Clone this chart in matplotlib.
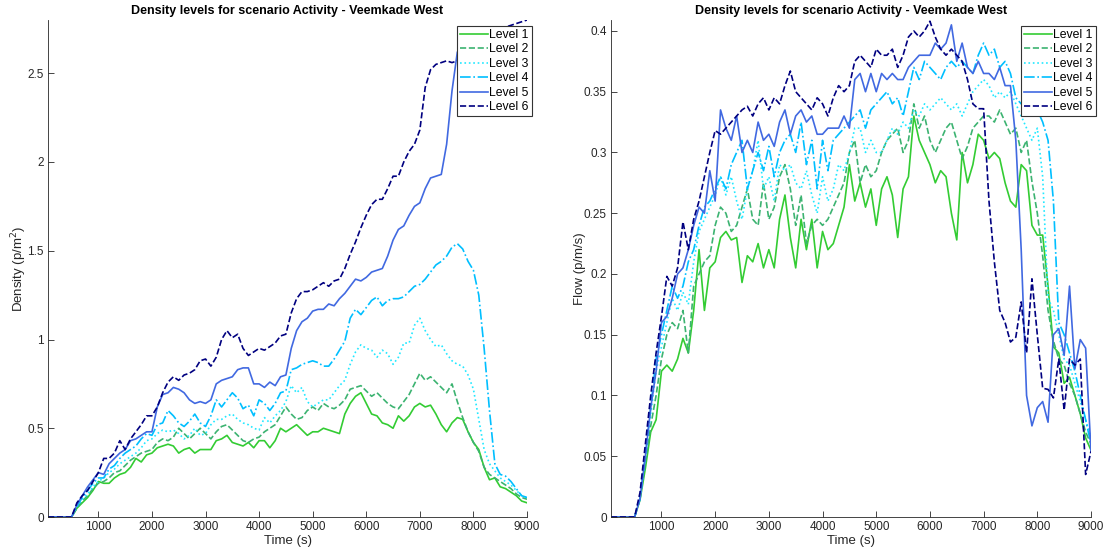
import numpy as np
import matplotlib
matplotlib.use("Agg")
import matplotlib.pyplot as plt
from matplotlib.ticker import FormatStrFormatter

plt.rcParams['font.family'] = ['Liberation Sans', 'DejaVu Sans']

# ---------------- data ----------------
time_s = [60] + list(range(100, 9001, 100))

labels = ["Level 1", "Level 2", "Level 3", "Level 4", "Level 5", "Level 6"]

density_l1 = [0, 0, 0, 0, 0, 0, 0.05, 0.08, 0.11, 0.15, 0.20, 0.19, 0.19, 0.22, 0.24, 0.25, 0.28, 0.33, 0.31, 0.35,
              0.36, 0.39, 0.40, 0.41, 0.40, 0.36, 0.38, 0.39, 0.36, 0.38, 0.38, 0.38, 0.43, 0.44, 0.46, 0.42, 0.41, 0.40,
              0.42, 0.39, 0.43, 0.43, 0.39, 0.43, 0.50, 0.48, 0.50, 0.52, 0.49, 0.46, 0.48, 0.48, 0.50, 0.49, 0.48, 0.47,
              0.58, 0.64, 0.68, 0.70, 0.64, 0.58, 0.57, 0.53, 0.52, 0.50, 0.57, 0.54, 0.57, 0.62, 0.64, 0.62, 0.63, 0.58,
              0.52, 0.48, 0.53, 0.56, 0.55, 0.48, 0.42, 0.38, 0.28, 0.21, 0.22, 0.17, 0.16, 0.14, 0.12, 0.09, 0.08]
density_l2 = [0, 0, 0, 0, 0, 0, 0.05, 0.09, 0.12, 0.16, 0.19, 0.20, 0.22, 0.25, 0.26, 0.29, 0.32, 0.34, 0.36, 0.37,
              0.38, 0.42, 0.44, 0.43, 0.45, 0.50, 0.47, 0.44, 0.47, 0.50, 0.47, 0.44, 0.48, 0.51, 0.52, 0.49, 0.46, 0.43,
              0.42, 0.44, 0.45, 0.48, 0.50, 0.52, 0.57, 0.62, 0.58, 0.55, 0.56, 0.60, 0.62, 0.60, 0.64, 0.62, 0.61, 0.63,
              0.66, 0.72, 0.73, 0.74, 0.71, 0.68, 0.70, 0.67, 0.64, 0.62, 0.61, 0.65, 0.69, 0.75, 0.81, 0.77, 0.79, 0.76,
              0.73, 0.70, 0.75, 0.65, 0.56, 0.48, 0.42, 0.37, 0.28, 0.24, 0.22, 0.20, 0.18, 0.16, 0.13, 0.11, 0.10]
density_l3 = [0, 0, 0, 0, 0, 0, 0.06, 0.10, 0.13, 0.17, 0.20, 0.22, 0.25, 0.27, 0.30, 0.32, 0.34, 0.36, 0.39, 0.43,
              0.44, 0.47, 0.49, 0.48, 0.49, 0.47, 0.44, 0.46, 0.50, 0.46, 0.47, 0.52, 0.55, 0.55, 0.57, 0.58, 0.55, 0.53,
              0.52, 0.50, 0.49, 0.56, 0.53, 0.57, 0.60, 0.65, 0.74, 0.70, 0.73, 0.65, 0.62, 0.64, 0.66, 0.66, 0.70, 0.74,
              0.77, 0.86, 0.93, 0.97, 0.95, 0.94, 0.90, 0.94, 0.92, 0.86, 0.90, 0.98, 0.98, 1.08, 1.12, 1.05, 1.00, 0.96,
              0.97, 0.92, 0.88, 0.86, 0.85, 0.80, 0.72, 0.55, 0.38, 0.30, 0.26, 0.22, 0.20, 0.18, 0.15, 0.12, 0.11]
density_l4 = [0, 0, 0, 0, 0, 0, 0.06, 0.11, 0.15, 0.19, 0.22, 0.22, 0.27, 0.29, 0.33, 0.36, 0.38, 0.40, 0.44, 0.47,
              0.46, 0.52, 0.53, 0.60, 0.57, 0.53, 0.51, 0.54, 0.58, 0.53, 0.51, 0.57, 0.66, 0.62, 0.66, 0.70, 0.67, 0.61,
              0.63, 0.57, 0.66, 0.64, 0.60, 0.64, 0.70, 0.71, 0.83, 0.84, 0.86, 0.87, 0.88, 0.87, 0.85, 0.85, 0.89, 0.94,
              0.99, 1.12, 1.17, 1.14, 1.18, 1.22, 1.24, 1.19, 1.22, 1.23, 1.23, 1.24, 1.27, 1.30, 1.31, 1.34, 1.38, 1.42,
              1.44, 1.47, 1.52, 1.54, 1.51, 1.44, 1.39, 1.25, 0.95, 0.60, 0.30, 0.24, 0.23, 0.20, 0.16, 0.12, 0.11]
density_l5 = [0, 0, 0, 0, 0, 0, 0.07, 0.12, 0.17, 0.21, 0.25, 0.24, 0.30, 0.33, 0.36, 0.38, 0.43, 0.44, 0.46, 0.48,
              0.48, 0.62, 0.69, 0.70, 0.73, 0.72, 0.70, 0.66, 0.64, 0.65, 0.64, 0.66, 0.75, 0.77, 0.78, 0.79, 0.83, 0.84,
              0.84, 0.75, 0.75, 0.73, 0.76, 0.74, 0.79, 0.80, 0.95, 1.05, 1.10, 1.12, 1.16, 1.17, 1.17, 1.20, 1.19, 1.23,
              1.26, 1.30, 1.34, 1.33, 1.35, 1.38, 1.39, 1.40, 1.47, 1.56, 1.62, 1.64, 1.70, 1.75, 1.77, 1.85, 1.91, 1.92,
              1.93, 2.10, 2.40, 2.62, 2.62, 2.61, 2.60, 2.60, 2.59, 2.59, 2.58, 2.58, 2.57, 2.57, 2.56, 2.56, 2.56]
density_l6 = [0, 0, 0, 0, 0, 0, 0.08, 0.12, 0.15, 0.20, 0.25, 0.33, 0.33, 0.36, 0.43, 0.38, 0.44, 0.48, 0.52, 0.57,
              0.57, 0.62, 0.70, 0.76, 0.79, 0.77, 0.80, 0.81, 0.83, 0.88, 0.89, 0.85, 0.90, 1.00, 1.05, 1.01, 1.03, 0.95,
              0.91, 0.93, 0.95, 0.94, 0.96, 0.98, 1.02, 1.03, 1.15, 1.23, 1.27, 1.27, 1.28, 1.30, 1.32, 1.30, 1.33, 1.34,
              1.40, 1.48, 1.55, 1.63, 1.70, 1.76, 1.79, 1.79, 1.85, 1.92, 1.92, 2.00, 2.06, 2.10, 2.18, 2.42, 2.52, 2.55,
              2.56, 2.57, 2.56, 2.57, 2.60, 2.62, 2.64, 2.66, 2.68, 2.70, 2.72, 2.74, 2.76, 2.77, 2.78, 2.79, 2.80]

flow_l1 = [0, 0, 0, 0, 0, 0, 0.014, 0.04, 0.07, 0.08, 0.12, 0.125, 0.12, 0.13, 0.147, 0.135, 0.17, 0.22, 0.17, 0.205,
           0.21, 0.23, 0.235, 0.228, 0.23, 0.193, 0.215, 0.21, 0.225, 0.205, 0.22, 0.205, 0.245, 0.265, 0.23, 0.205,
           0.245, 0.22, 0.245, 0.205, 0.235, 0.22, 0.225, 0.24, 0.255, 0.29, 0.26, 0.275, 0.255, 0.27, 0.24, 0.27,
           0.28, 0.265, 0.23, 0.27, 0.28, 0.33, 0.31, 0.30, 0.29, 0.275, 0.285, 0.28, 0.25, 0.228, 0.30, 0.275, 0.29,
           0.315, 0.31, 0.295, 0.30, 0.295, 0.275, 0.26, 0.255, 0.29, 0.285, 0.24, 0.232, 0.232, 0.19, 0.14, 0.135,
           0.11, 0.115, 0.10, 0.085, 0.065, 0.055]
flow_l2 = [0, 0, 0, 0, 0, 0, 0.015, 0.045, 0.075, 0.10, 0.13, 0.15, 0.16, 0.155, 0.17, 0.135, 0.19, 0.20, 0.21, 0.215,
           0.24, 0.255, 0.25, 0.235, 0.24, 0.255, 0.27, 0.245, 0.24, 0.275, 0.245, 0.255, 0.28, 0.29, 0.27, 0.24,
           0.265, 0.225, 0.24, 0.245, 0.24, 0.245, 0.255, 0.265, 0.275, 0.30, 0.31, 0.275, 0.29, 0.28, 0.285, 0.30,
           0.31, 0.315, 0.32, 0.30, 0.31, 0.34, 0.32, 0.33, 0.31, 0.30, 0.31, 0.32, 0.325, 0.31, 0.295, 0.305, 0.32,
           0.325, 0.33, 0.33, 0.325, 0.335, 0.325, 0.315, 0.32, 0.30, 0.31, 0.276, 0.25, 0.215, 0.17, 0.145, 0.13,
           0.125, 0.11, 0.10, 0.085, 0.07, 0.06]
flow_l3 = [0, 0, 0, 0, 0, 0, 0.015, 0.05, 0.085, 0.12, 0.14, 0.16, 0.18, 0.17, 0.185, 0.175, 0.21, 0.235, 0.245, 0.255,
           0.265, 0.28, 0.265, 0.28, 0.26, 0.245, 0.27, 0.285, 0.31, 0.27, 0.28, 0.26, 0.29, 0.285, 0.29, 0.275,
           0.27, 0.285, 0.265, 0.25, 0.28, 0.26, 0.27, 0.29, 0.285, 0.30, 0.32, 0.32, 0.30, 0.31, 0.30, 0.30, 0.31,
           0.32, 0.315, 0.325, 0.32, 0.335, 0.33, 0.34, 0.335, 0.34, 0.345, 0.34, 0.335, 0.34, 0.33, 0.34, 0.35,
           0.355, 0.36, 0.355, 0.345, 0.35, 0.345, 0.35, 0.34, 0.33, 0.32, 0.31, 0.32, 0.28, 0.18, 0.17, 0.15, 0.13,
           0.125, 0.11, 0.095, 0.08, 0.065]
flow_l4 = [0, 0, 0, 0, 0, 0, 0.015, 0.05, 0.09, 0.13, 0.15, 0.17, 0.19, 0.18, 0.19, 0.21, 0.22, 0.24, 0.255, 0.26,
           0.27, 0.28, 0.27, 0.29, 0.30, 0.31, 0.27, 0.285, 0.30, 0.285, 0.305, 0.28, 0.30, 0.31, 0.315, 0.30, 0.325,
           0.29, 0.31, 0.27, 0.31, 0.285, 0.31, 0.315, 0.32, 0.325, 0.33, 0.335, 0.32, 0.335, 0.34, 0.345, 0.35, 0.34,
           0.345, 0.33, 0.35, 0.37, 0.36, 0.375, 0.37, 0.365, 0.36, 0.37, 0.375, 0.37, 0.375, 0.37, 0.365, 0.38,
           0.39, 0.38, 0.385, 0.37, 0.375, 0.365, 0.345, 0.34, 0.335, 0.33, 0.335, 0.325, 0.31, 0.26, 0.16, 0.15,
           0.135, 0.12, 0.10, 0.08, 0.06]
flow_l5 = [0, 0, 0, 0, 0, 0, 0.015, 0.05, 0.09, 0.12, 0.16, 0.165, 0.18, 0.20, 0.205, 0.22, 0.24, 0.255, 0.25, 0.285,
           0.26, 0.335, 0.32, 0.31, 0.33, 0.30, 0.31, 0.30, 0.325, 0.31, 0.315, 0.305, 0.325, 0.335, 0.315, 0.33,
           0.335, 0.325, 0.33, 0.315, 0.315, 0.32, 0.32, 0.32, 0.33, 0.32, 0.36, 0.365, 0.35, 0.365, 0.35, 0.365,
           0.36, 0.365, 0.36, 0.36, 0.37, 0.375, 0.38, 0.38, 0.38, 0.39, 0.385, 0.39, 0.405, 0.375, 0.39, 0.37, 0.365,
           0.375, 0.365, 0.365, 0.36, 0.37, 0.355, 0.355, 0.31, 0.22, 0.10, 0.075, 0.09, 0.095, 0.078, 0.15, 0.155,
           0.133, 0.19, 0.122, 0.146, 0.139, 0.054]
flow_l6 = [0, 0, 0, 0, 0, 0, 0.02, 0.06, 0.10, 0.135, 0.165, 0.198, 0.19, 0.205, 0.243, 0.22, 0.245, 0.26, 0.28, 0.30,
           0.318, 0.315, 0.32, 0.325, 0.33, 0.335, 0.338, 0.33, 0.34, 0.345, 0.335, 0.345, 0.34, 0.355, 0.367, 0.35,
           0.345, 0.34, 0.335, 0.345, 0.34, 0.33, 0.345, 0.355, 0.35, 0.355, 0.375, 0.38, 0.375, 0.37, 0.385, 0.38,
           0.38, 0.385, 0.37, 0.38, 0.395, 0.40, 0.395, 0.40, 0.408, 0.395, 0.385, 0.38, 0.385, 0.38, 0.375, 0.36,
           0.34, 0.336, 0.336, 0.26, 0.21, 0.17, 0.16, 0.144, 0.148, 0.177, 0.135, 0.196, 0.15, 0.106, 0.105, 0.098,
           0.13, 0.088, 0.13, 0.125, 0.13, 0.035, 0.054]

density_series = [density_l1, density_l2, density_l3, density_l4, density_l5, density_l6]
flow_series = [flow_l1, flow_l2, flow_l3, flow_l4, flow_l5, flow_l6]

colors = ["#33cc33", "#3cb371", "#22e8ff", "#00bfff", "#4169e1", "#000080"]
styles = ["-", "--", ":", "-.", "-", "--"]

title = "Density levels for scenario Activity - Veemkade West"

# ---------------- figure ----------------
fig = plt.figure(figsize=(11.05, 5.52), dpi=100)
ax1 = fig.add_axes([48 / 1105, 35 / 552, (527 - 48) / 1105, (517 - 20) / 552])
ax2 = fig.add_axes([611 / 1105, 35 / 552, (1091 - 611) / 1105, (517 - 20) / 552])

tick_color = "#262626"

def style_axes(ax, ylim, yticks, ylabel):
    ax.set_xlim(60, 9000)
    ax.set_ylim(*ylim)
    ax.set_xticks(range(1000, 9001, 1000))
    ax.set_yticks(yticks)
    ax.yaxis.set_major_formatter(FormatStrFormatter('%g'))
    ax.tick_params(direction="in", length=4, width=0.6, colors=tick_color, labelsize=8.5, pad=3)
    for s in ["top", "right"]:
        ax.spines[s].set_visible(False)
    for s in ["left", "bottom"]:
        ax.spines[s].set_color(tick_color)
        ax.spines[s].set_linewidth(0.6)
    ax.set_xlabel("Time (s)", fontsize=9.5, color=tick_color, labelpad=1)
    ax.set_ylabel(ylabel, fontsize=9.5, color=tick_color, labelpad=-1.5)
    ax.set_title(title, fontsize=9, fontweight="bold", pad=4)
    leg = ax.legend(loc="upper right", bbox_to_anchor=(1.01, 0.988), fontsize=8.8,
                    handlelength=2.3, handletextpad=0.1, borderpad=0.25, labelspacing=0.2,
                    borderaxespad=0, fancybox=False, framealpha=1, edgecolor="#333333")
    leg.get_frame().set_linewidth(0.8)

for vals, c, ls, lab in zip(density_series, colors, styles, labels):
    ax1.plot(time_s, vals, color=c, linestyle=ls, linewidth=1.2, label=lab)
style_axes(ax1, (0, 2.8), [0, 0.5, 1, 1.5, 2, 2.5], "Density (p/m$^2$)")

for vals, c, ls, lab in zip(flow_series, colors, styles, labels):
    ax2.plot(time_s, vals, color=c, linestyle=ls, linewidth=1.2, label=lab)
style_axes(ax2, (0, 0.409), [0, 0.05, 0.1, 0.15, 0.2, 0.25, 0.3, 0.35, 0.4], "Flow (p/m/s)")

fig.savefig("out.png", dpi=100)
